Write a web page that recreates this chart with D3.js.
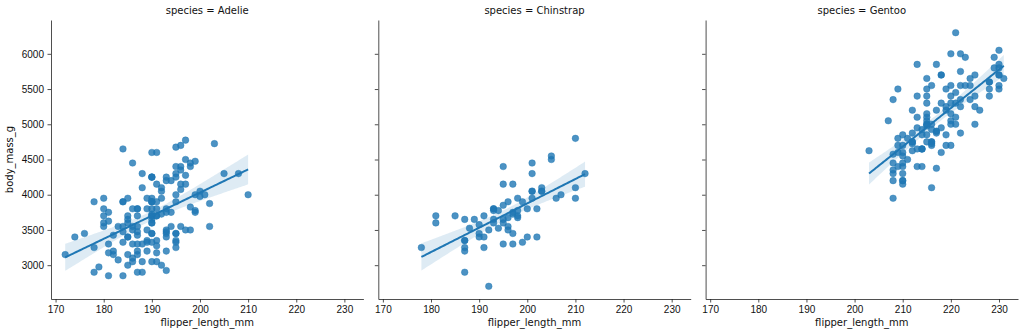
<!DOCTYPE html>
<html>
<head>
<meta charset="utf-8">
<script src="https://cdn.jsdelivr.net/npm/d3@7"></script>
<style>
  body { margin: 0; background: #fff; }
  svg { display: block; font-family: "DejaVu Sans", sans-serif; }
  .tick text { font-size: 10px; fill: #111; }
  .tick line, .domain { stroke: #222; stroke-width: 0.8px; }
</style>
</head>
<body>
<svg width="1024" height="335"></svg>
<script>
// penguin values
const species = ["Adelie", "Chinstrap", "Gentoo"];

const adelieFlipper = [181,186,195,193,190,181,195,193,190,186,180,182,191,198,185,195,197,184,194,
  174,180,189,185,180,187,183,187,172,180,
  178,178,188,184,195,196,190,180,181,184,182,195,186,196,185,190,182,179,190,191,
  186,188,190,200,187,191,186,193,181,194,185,195,185,192,184,192,195,188,
  190,198,190,190,196,197,190,195,191,184,187,195,189,196,187,193,
  191,194,190,189,189,190,202,205,185,186,187,208,190,196,178,192,
  192,203,183,190,193,184,199,190,181,197,198,191,193,197,191,196,
  188,199,189,189,187,198,176,202,186,199,191,195,191,210,190,197,
  193,199,187,190,191,200,185,193,193,187,188,190,192,185,190,184,195,193,187,201];
const adelieMass = [3750,3800,3250,3450,3650,3625,4675,3475,4250,3300,3700,3200,3800,4400,3700,3450,4500,3325,4200,
  3400,3600,3800,3950,3800,3800,3550,3200,3150,3950,
  3250,3900,3300,3900,3325,4150,3950,3550,3300,4650,3150,3900,3100,4400,3000,4600,3425,2975,3450,4150,
  3500,4300,3450,4050,2900,3700,3550,3800,2850,3750,3150,4400,3600,4050,2850,3950,3350,4100,
  3050,4450,3600,3900,3550,4150,3700,4250,3700,3900,3550,4000,3200,4700,3800,4200,
  3350,3550,3800,3500,3950,3600,3550,4300,3400,4450,3300,4300,3700,4350,2900,4100,
  3725,4725,3075,4250,2925,3550,3750,3900,3175,4775,3825,4600,3200,4275,3900,4075,
  2900,3775,3350,3325,3150,3500,3450,3875,3050,4000,3275,4300,3050,4000,3325,3500,
  3500,4475,3425,3900,3175,3975,3400,4250,3400,3475,3050,3725,3000,3650,4250,3475,3450,3750,3700,4000];

const chinstrapFlipper = [192,196,193,188,197,198,178,197,195,198,193,194,185,201,190,201,197,181,190,195,
  181,191,187,193,195,197,200,200,191,205,187,201,187,203,195,199,195,210,192,205,
  210,187,196,196,196,201,190,212,187,198,199,201,193,203,187,197,191,203,202,194,
  206,189,195,207,202,193,210,198];
const chinstrapMass = [3500,3900,3650,3525,3725,3950,3250,3750,4150,3700,3800,3775,3700,4050,3575,4050,3300,3700,3450,4400,
  3600,3400,2900,3800,3300,4150,3400,3800,3700,4550,3200,4300,3350,4100,3600,3900,3850,4800,2700,4500,
  3950,3650,3550,3500,3675,4450,3400,4300,3250,3675,3325,3950,3600,4050,3350,3450,3250,4050,3800,3525,
  3950,3650,3650,4000,3400,3775,4100,3775];

const gentooFlipper = [211,230,210,218,215,210,211,219,209,215,214,216,214,213,210,217,210,221,209,222,
  218,215,213,215,215,215,216,215,210,220,222,209,207,230,
  220,220,213,219,208,208,208,225,210,216,222,217,210,225,213,215,210,220,210,225,
  217,220,208,220,208,224,208,221,214,231,219,230,214,229,220,223,216,221,221,217,
  216,230,209,220,215,223,
  212,221,212,224,212,228,218,218,212,230,218,228,212,224,214,226,216,222,203,225,
  219,228,215,228,216,215,210,219,208,209,216,229,213,230,217,230,217,222,214,215,
  222,212,213];
const gentooMass = [4500,5700,4450,5700,5400,4550,4800,5200,4400,5150,4650,5550,4650,5850,4200,5850,4150,6300,4800,5350,
  5700,5000,4400,5050,5000,5100,4100,5650,4600,5550,5250,4700,5050,6050,
  5150,5400,4950,5250,4350,5350,3950,5700,4300,4750,5550,4900,4200,5400,5100,5300,4850,5300,4400,5000,
  4900,5050,4300,5000,4450,5550,4200,5300,4400,5650,4700,5700,4650,5800,4700,5550,4750,5000,5100,5200,
  4700,5800,4600,6000,4750,5950,
  4625,5450,4725,5350,4750,5600,4600,5300,4875,5550,4950,5400,4750,5650,4850,5200,4925,4875,4625,5250,
  4850,5600,4975,5500,4725,5500,4700,5500,4575,5500,5000,5950,4650,5500,4375,5850,4875,6000,4925,4850,
  5750,5200,5400];

const xTicks = [170, 180, 190, 200, 210, 220, 230];
const yTicks = [3000, 3500, 4000, 4500, 5000, 5500, 6000];

const flippers = [adelieFlipper, chinstrapFlipper, gentooFlipper];
const masses = [adelieMass, chinstrapMass, gentooMass];

const color = "#1f77b4";
const svg = d3.select("svg");

const panelW = 312.4, gapW = 14.9, plotTop = 20, plotBottom = 299;
const x0 = 51;

const y = d3.scaleLinear().domain([2520, 6480]).range([plotBottom, plotTop]);

// simple least squares fit with a 95% band for the mean
function fit(xs, ys) {
  const n = xs.length;
  const mx = d3.mean(xs), my = d3.mean(ys);
  let sxx = 0, sxy = 0;
  for (let i = 0; i < n; i++) {
    sxx += (xs[i] - mx) * (xs[i] - mx);
    sxy += (xs[i] - mx) * (ys[i] - my);
  }
  const b = sxy / sxx, a = my - b * mx;
  let sse = 0;
  for (let i = 0; i < n; i++) sse += Math.pow(ys[i] - (a + b * xs[i]), 2);
  const s = Math.sqrt(sse / (n - 2));
  const lo = d3.min(xs), hi = d3.max(xs);
  const grid = d3.range(100).map(i => lo + (hi - lo) * i / 99);
  return grid.map(g => {
    const yh = a + b * g;
    const se = s * Math.sqrt(1 / n + (g - mx) * (g - mx) / sxx);
    return { x: g, y: yh, lo: yh - 1.98 * se, hi: yh + 1.98 * se };
  });
}

species.forEach((sp, k) => {
  const left = x0 + k * (panelW + gapW);
  const x = d3.scaleLinear().domain([169.05, 233.95]).range([left, left + panelW]);
  const g = svg.append("g");

  // axes
  g.append("g")
    .attr("transform", `translate(0,${plotBottom})`)
    .call(d3.axisBottom(x).tickValues(xTicks).tickFormat(d3.format("d"))
      .tickSize(3.5).tickPadding(3.5).tickSizeOuter(0));
  const ya = g.append("g")
    .attr("transform", `translate(${left},0)`)
    .call(d3.axisLeft(y).tickValues(yTicks).tickFormat(d3.format("d"))
      .tickSize(3.5).tickPadding(3.5).tickSizeOuter(0));
  if (k > 0) ya.selectAll(".tick text").remove();

  const pts = flippers[k].map((f, i) => ({ f: f, m: masses[k][i] }));
  g.append("g").selectAll("circle")
    .data(pts)
    .enter()
    .append("circle")
      .attr("cx", d => x(d.f))
      .attr("cy", d => y(d.m))
      .attr("r", 3.3)
      .attr("fill", color)
      .attr("fill-opacity", 0.8)
      .attr("stroke", color)
      .attr("stroke-opacity", 0.8)
      .attr("stroke-width", 0.5);

  const band = fit(flippers[k], masses[k]);
  g.append("path")
    .datum(band)
    .attr("d", d3.area().x(d => x(d.x)).y0(d => y(d.lo)).y1(d => y(d.hi)))
    .attr("fill", color)
    .attr("fill-opacity", 0.15);
  g.append("path")
    .datum(band)
    .attr("d", d3.line().x(d => x(d.x)).y(d => y(d.y)))
    .attr("fill", "none")
    .attr("stroke", color)
    .attr("stroke-width", 2);

  g.append("text")
    .attr("x", left + panelW / 2)
    .attr("y", 14)
    .attr("text-anchor", "middle")
    .style("font-size", "10px")
    .style("fill", "#111")
    .text("species = " + sp);

  g.append("text")
    .attr("x", left + panelW / 2)
    .attr("y", 326)
    .attr("text-anchor", "middle")
    .style("font-size", "10px")
    .style("fill", "#111")
    .text("flipper_length_mm");
});

svg.append("text")
  .attr("transform", `translate(13,${(plotTop + plotBottom) / 2}) rotate(-90)`)
  .attr("text-anchor", "middle")
  .style("font-size", "10px")
  .style("fill", "#111")
  .text("body_mass_g");
</script>
</body>
</html>
